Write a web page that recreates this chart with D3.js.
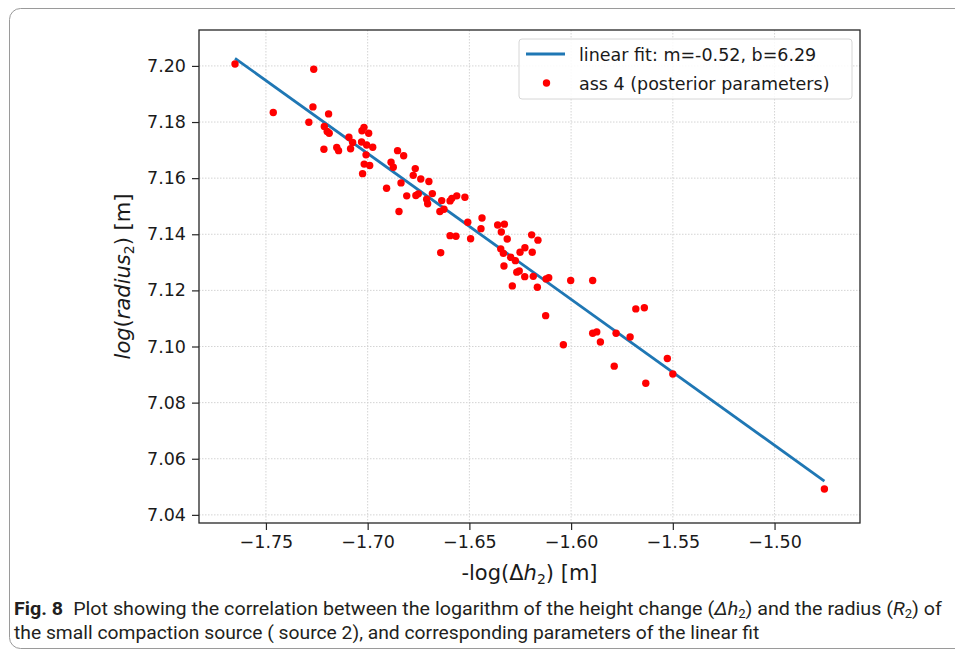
<!DOCTYPE html>
<html>
<head>
<meta charset="utf-8">
<script src="https://cdn.jsdelivr.net/npm/d3@7"></script>
<style>
body { margin: 0; background: #fff; }
svg { display: block; }
</style>
</head>
<body>
<script>
// -log(dh2) and log(radius2) of the posterior samples
var xVals = [-1.7652, -1.7265, -1.7464, -1.7269, -1.7289, -1.7192, -1.7213, -1.7199, -1.7189, -1.7215,
    -1.7152, -1.7143, -1.7092, -1.7074, -1.7084, -1.7018, -1.7028, -1.6995, -1.7030, -1.7005,
    -1.6975, -1.7008, -1.7017, -1.6990, -1.7025, -1.6907, -1.6885, -1.6874, -1.6853, -1.6823,
    -1.6836, -1.6766, -1.6776, -1.6739, -1.6699, -1.6808, -1.6763, -1.6751, -1.6710, -1.6705,
    -1.6682, -1.6846, -1.6636, -1.6645, -1.6625, -1.6595, -1.6586, -1.6562, -1.6522, -1.6508,
    -1.6438, -1.6443, -1.6595, -1.6566, -1.6494, -1.6641, -1.6361, -1.6328, -1.6343, -1.6314,
    -1.6346, -1.6333, -1.6297, -1.6274, -1.6251, -1.6227, -1.6330, -1.6267, -1.6255, -1.6228,
    -1.6194, -1.6163, -1.6191, -1.6186, -1.6289, -1.6166, -1.6123, -1.6110, -1.6002, -1.5894,
    -1.6125, -1.5682, -1.5640, -1.5894, -1.5874, -1.5779, -1.5710, -1.5856, -1.6038, -1.5788,
    -1.5527, -1.5500, -1.5633, -1.4755];
var yVals = [7.2007, 7.1988, 7.1834, 7.1854, 7.1799, 7.1829, 7.1784, 7.1766, 7.1760, 7.1703,
    7.1709, 7.1698, 7.1746, 7.1727, 7.1705, 7.1781, 7.1769, 7.1760, 7.1729, 7.1718,
    7.1710, 7.1683, 7.1650, 7.1645, 7.1616, 7.1564, 7.1657, 7.1639, 7.1698, 7.1680,
    7.1583, 7.1634, 7.1610, 7.1597, 7.1588, 7.1537, 7.1538, 7.1544, 7.1525, 7.1509,
    7.1545, 7.1481, 7.1520, 7.1481, 7.1489, 7.1519, 7.1528, 7.1537, 7.1532, 7.1443,
    7.1458, 7.1420, 7.1395, 7.1393, 7.1384, 7.1334, 7.1433, 7.1436, 7.1408, 7.1383,
    7.1348, 7.1332, 7.1318, 7.1306, 7.1336, 7.1352, 7.1287, 7.1265, 7.1269, 7.1249,
    7.1398, 7.1379, 7.1336, 7.1250, 7.1216, 7.1211, 7.1241, 7.1245, 7.1235, 7.1235,
    7.1110, 7.1134, 7.1138, 7.1047, 7.1052, 7.1047, 7.1034, 7.1016, 7.1006, 7.0930,
    7.0957, 7.0902, 7.0869, 7.0492];

var fitSlope = -0.52,
    fitIntercept = 6.2848;

var xTicks = [-1.75, -1.70, -1.65, -1.60, -1.55, -1.50];
var yTicks = [7.04, 7.06, 7.08, 7.10, 7.12, 7.14, 7.16, 7.18, 7.20];
var legendLabels = ['linear fit: m=-0.52, b=6.29', 'ass 4 (posterior parameters)'];

var width = 955,
    height = 653,
    plot = { left: 199, right: 860, top: 30, bottom: 523 };

var chartFont = "'DejaVu Sans', sans-serif";

var svg = d3.select('body')
    .append('svg')
    .attr('width', width)
    .attr('height', height)
    .attr('font-family', chartFont);

// figure frame (journal box)
svg.append('rect')
    .attr('x', 9.5).attr('y', 8.5)
    .attr('width', 980).attr('height', 640)
    .attr('rx', 11)
    .attr('fill', 'none')
    .attr('stroke', '#9a9a9a')
    .attr('stroke-width', 1);

var xScale = d3.scaleLinear()
    .domain([-1.7829, -1.4580])
    .range([plot.left, plot.right]);
var yScale = d3.scaleLinear()
    .domain([7.0371, 7.2128])
    .range([plot.bottom, plot.top]);

// grid
var grid = svg.append('g')
    .attr('stroke', '#cfcfcf')
    .attr('stroke-width', 0.9)
    .attr('stroke-dasharray', '1.5,1.5');
grid.selectAll('.gx').data(xTicks).join('line')
    .attr('x1', d => xScale(d)).attr('x2', d => xScale(d))
    .attr('y1', plot.top).attr('y2', plot.bottom);
grid.selectAll('.gy').data(yTicks).join('line')
    .attr('x1', plot.left).attr('x2', plot.right)
    .attr('y1', d => yScale(d)).attr('y2', d => yScale(d));

var fmt = d => d3.format('.2f')(d).replace('-', '\u2212');

var xAxis = d3.axisBottom(xScale)
    .tickValues(xTicks)
    .tickSizeInner(7)
    .tickSizeOuter(0)
    .tickPadding(6)
    .tickFormat(fmt);
var yAxis = d3.axisLeft(yScale)
    .tickValues(yTicks)
    .tickSizeInner(7)
    .tickSizeOuter(0)
    .tickPadding(6)
    .tickFormat(fmt);

var gx = svg.append('g')
    .attr('transform', `translate(0, ${plot.bottom})`)
    .call(xAxis);
var gy = svg.append('g')
    .attr('transform', `translate(${plot.left}, 0)`)
    .call(yAxis);
[gx, gy].forEach(g => {
    g.attr('font-family', chartFont).attr('font-size', 17.5);
    g.select('.domain').remove();
    g.selectAll('.tick line').attr('stroke', '#262626').attr('stroke-width', 1.2);
    g.selectAll('.tick text').attr('fill', '#1a1a1a');
});

// fit line
var x0 = d3.min(xVals), x1 = d3.max(xVals);
var line = d3.line()
    .x(d => xScale(d))
    .y(d => yScale(fitSlope * d + fitIntercept));
svg.append('path')
    .attr('d', line([x0, x1]))
    .attr('fill', 'none')
    .attr('stroke', '#1f77b4')
    .attr('stroke-width', 2.8);

// points
svg.append('g')
    .selectAll('circle')
    .data(d3.zip(xVals, yVals))
    .join('circle')
    .attr('cx', d => xScale(d[0]))
    .attr('cy', d => yScale(d[1]))
    .attr('r', 3.7)
    .attr('fill', '#ff0000');

// axes frame
svg.append('rect')
    .attr('x', plot.left).attr('y', plot.top)
    .attr('width', plot.right - plot.left)
    .attr('height', plot.bottom - plot.top)
    .attr('fill', 'none')
    .attr('stroke', '#262626')
    .attr('stroke-width', 1.3);

// legend
var lg = svg.append('g').attr('transform', 'translate(519, 39)');
lg.append('rect')
    .attr('width', 333).attr('height', 60)
    .attr('rx', 3)
    .attr('fill', 'rgba(255,255,255,0.85)')
    .attr('stroke', '#d6d6d6');
lg.append('line')
    .attr('x1', 7).attr('x2', 46).attr('y1', 15).attr('y2', 15)
    .attr('stroke', '#1f77b4').attr('stroke-width', 2.8);
lg.append('circle')
    .attr('cx', 27.5).attr('cy', 44).attr('r', 3.7)
    .attr('fill', '#ff0000');
lg.selectAll('text').data(legendLabels).join('text')
    .attr('x', 60)
    .attr('y', (d, i) => 21.5 + i * 29)
    .attr('fill', '#1a1a1a')
    .attr('font-size', 17.5)
    .text(d => d);

// axis labels
var xl = svg.append('text')
    .attr('x', (plot.left + plot.right) / 2)
    .attr('y', 580)
    .attr('text-anchor', 'middle')
    .attr('fill', '#1a1a1a')
    .attr('font-size', 21);
xl.append('tspan').text('-log(\u0394');
xl.append('tspan').attr('font-style', 'italic').text('h');
xl.append('tspan').attr('dy', 4).attr('font-size', 14).text('2');
xl.append('tspan').attr('dy', -4).text(') [m]');

var yl = svg.append('text')
    .attr('transform', `translate(130, ${(plot.top + plot.bottom) / 2}) rotate(-90)`)
    .attr('text-anchor', 'middle')
    .attr('fill', '#1a1a1a')
    .attr('font-size', 21);
yl.append('tspan').attr('font-style', 'italic').text('log');
yl.append('tspan').text('(');
yl.append('tspan').attr('font-style', 'italic').text('radius');
yl.append('tspan').attr('dy', 4).attr('font-size', 14).text('2');
yl.append('tspan').attr('dy', -4).text(') [m]');

// caption
var capFont = "'Liberation Sans Narrow', 'Roboto', sans-serif";
var c1 = svg.append('text')
    .attr('x', 14).attr('y', 615)
    .attr('fill', '#231f20')
    .attr('font-family', capFont)
    .attr('font-size', 18);
c1.append('tspan').attr('font-weight', 'bold').text('Fig. 8');
c1.append('tspan').text('\u2002Plot showing the correlation between the logarithm of the height change (');
c1.append('tspan').attr('font-style', 'italic').text('\u0394h');
c1.append('tspan').attr('dy', 3).attr('font-size', 12).text('2');
c1.append('tspan').attr('dy', -3).text(') and the radius (');
c1.append('tspan').attr('font-style', 'italic').text('R');
c1.append('tspan').attr('dy', 3).attr('font-size', 12).text('2');
c1.append('tspan').attr('dy', -3).text(') of');

var c2 = svg.append('text')
    .attr('x', 14).attr('y', 639)
    .attr('fill', '#231f20')
    .attr('font-family', capFont)
    .attr('font-size', 18)
    .text('the small compaction source ( source 2), and corresponding parameters of the linear fit');

// squeeze caption lines to the widths in the figure
[[c1, 928], [c2, 746]].forEach(p => {
    var w = p[0].node().getComputedTextLength();
    p[0].attr('transform', `translate(14, 0) scale(${p[1] / w}, 1) translate(-14, 0)`);
});
</script>
</body>
</html>
